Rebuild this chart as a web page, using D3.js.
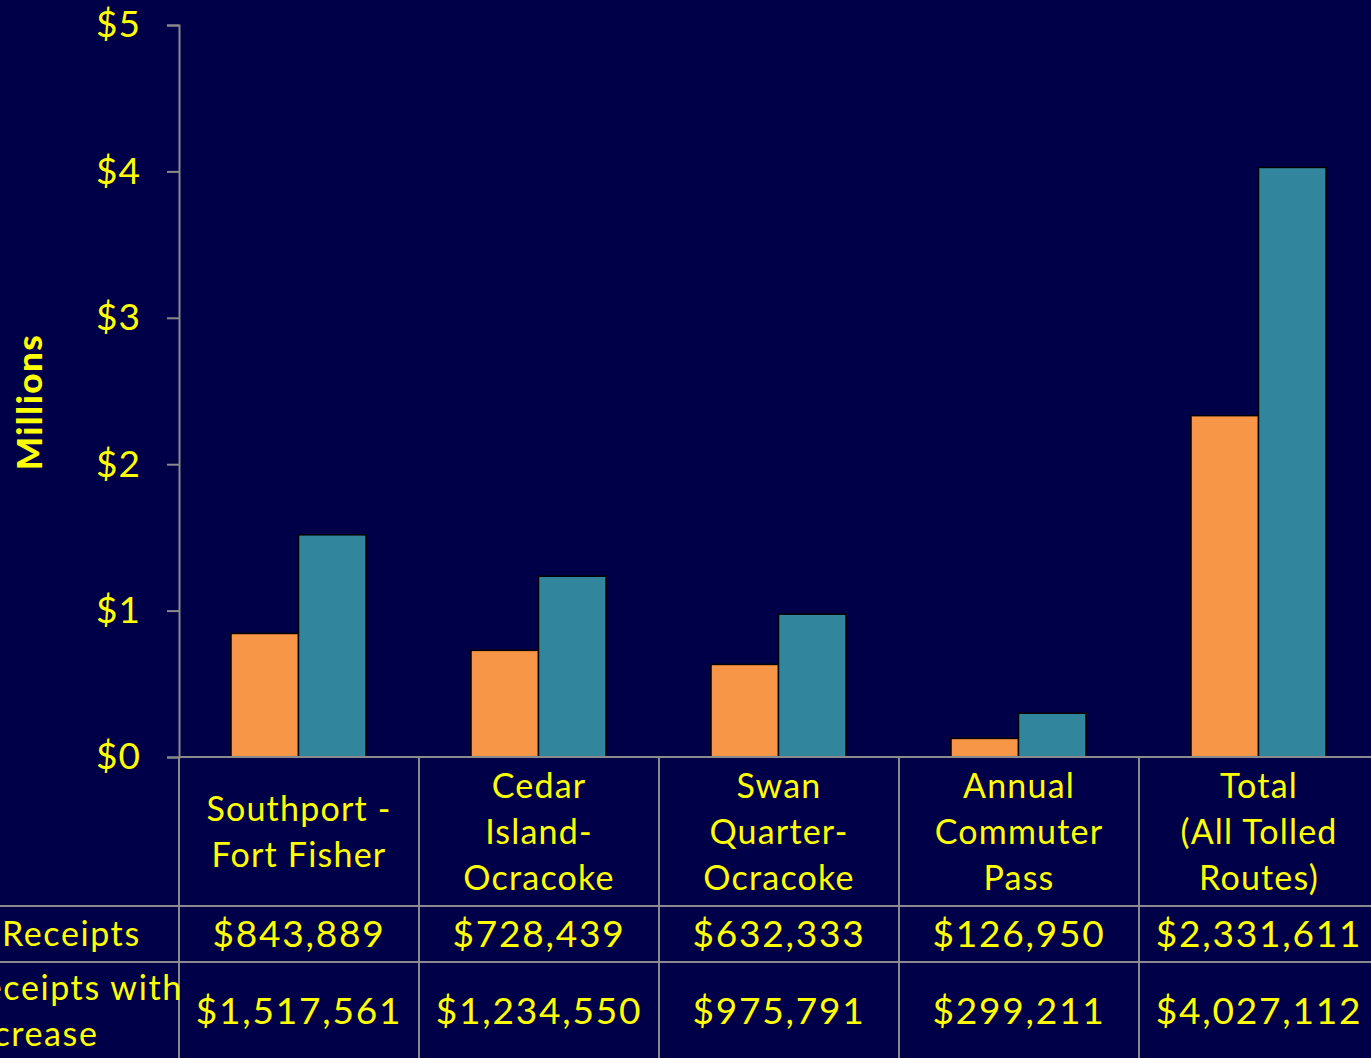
<!DOCTYPE html>
<html>
<head>
<meta charset="utf-8">
<script src="https://cdn.jsdelivr.net/npm/d3@7"></script>
<style>
  body { margin: 0; background: #000048; overflow: hidden; }
  svg { display: block; }
</style>
</head>
<body>
<svg id="chart" width="1371" height="1058"></svg>
<script>
// data
var categories = [
  ["Southport -", "Fort Fisher"],
  ["Cedar", "Island-", "Ocracoke"],
  ["Swan", "Quarter-", "Ocracoke"],
  ["Annual", "Commuter", "Pass"],
  ["Total", "(All Tolled", "Routes)"]
];
var receipts = [843889, 728439, 632333, 126950, 2331611];
var receiptsIncrease = [1517561, 1234550, 975791, 299211, 4027112];
var seriesNames = [["Receipts"], ["Receipts with", "Increase"]];
var yTicks = [0, 1, 2, 3, 4, 5];

var yellow = "#ffff00", grid = "#8a8a8a";
var colors = ["#f79646", "#31859c"];
var font = "Lato, 'Open Sans', sans-serif";

var svg = d3.select("#chart");
var plotLeft = 179, plotTop = 25, base = 757, catW = 240;
var rowLines = [757, 906, 962];

var x = d3.scaleBand().domain(d3.range(categories.length))
  .range([plotLeft, plotLeft + catW * categories.length]);
// two bars per group, group takes 134 of 240 px
var xs = d3.scaleBand().domain([0, 1]).range([52, 187]);
var y = d3.scaleLinear().domain([0, 5]).range([base, plotTop]);

// bars
var series = [receipts, receiptsIncrease];
series.forEach(function(vals, s) {
  svg.append("g").selectAll("rect").data(vals).enter().append("rect")
    .attr("x", function(d, i) { return x(i) + xs(s); })
    .attr("y", function(d) { return y(d / 1e6); })
    .attr("width", xs.bandwidth())
    .attr("height", function(d) { return base - y(d / 1e6); })
    .attr("fill", colors[s])
    .attr("stroke", "#000").attr("stroke-width", 1.5);
});

// y axis
var yAxis = d3.axisLeft(y).tickValues(yTicks).tickSize(12).tickPadding(26)
  .tickFormat(function(d) { return "$" + d; });
var ga = svg.append("g").attr("transform", "translate(" + plotLeft + ",0)").call(yAxis);
ga.select(".domain").attr("stroke", grid).attr("stroke-width", 2);
ga.selectAll(".tick line").attr("stroke", grid).attr("stroke-width", 2);
ga.selectAll(".tick text").attr("fill", yellow)
  .style("font-family", font).style("font-size", "37px").style("letter-spacing", "1px");

svg.append("text")
  .attr("transform", "translate(42,402) rotate(-90)")
  .attr("text-anchor", "middle")
  .attr("fill", yellow)
  .style("font-family", font).style("font-size", "35px").style("font-weight", "900")
  .style("letter-spacing", "1.5px")
  .text("Millions");

// data table
var tbl = svg.append("g");
rowLines.slice(1).forEach(function(ry) {
  tbl.append("line").attr("x1", 0).attr("x2", 1371).attr("y1", ry).attr("y2", ry)
    .attr("stroke", grid).attr("stroke-width", 2);
});
tbl.append("line").attr("x1", plotLeft).attr("x2", 1371).attr("y1", base).attr("y2", base)
  .attr("stroke", grid).attr("stroke-width", 2);
d3.range(categories.length).forEach(function(i) {
  tbl.append("line").attr("x1", x(i)).attr("x2", x(i)).attr("y1", base).attr("y2", 1058)
    .attr("stroke", grid).attr("stroke-width", 2);
});

function multiline(g, lines, cx, cy, size, anchor, spacing) {
  var t = g.append("text").attr("text-anchor", anchor || "middle").attr("fill", yellow)
    .style("font-family", font).style("font-size", size + "px")
    .style("letter-spacing", (spacing || 0) + "px");
  lines.forEach(function(l, k) {
    t.append("tspan").attr("x", cx)
      .attr("y", cy + (k - (lines.length - 1) / 2) * 46)
      .attr("dy", "0.35em").text(l);
  });
}

categories.forEach(function(c, i) {
  multiline(tbl, c, x(i) + catW / 2, 832, 34, "middle", 1.2);
});
var fmt = d3.format("$,");
var rowMid = [934, 1011];
var labelX = [2, -38];
series.forEach(function(vals, s) {
  vals.forEach(function(v, i) {
    multiline(tbl, [fmt(v)], x(i) + catW / 2, rowMid[s], 37, "middle", 1.8);
  });
  multiline(tbl, seriesNames[s], labelX[s], rowMid[s], 34, "start", 1.6);
});
</script>
</body>
</html>
